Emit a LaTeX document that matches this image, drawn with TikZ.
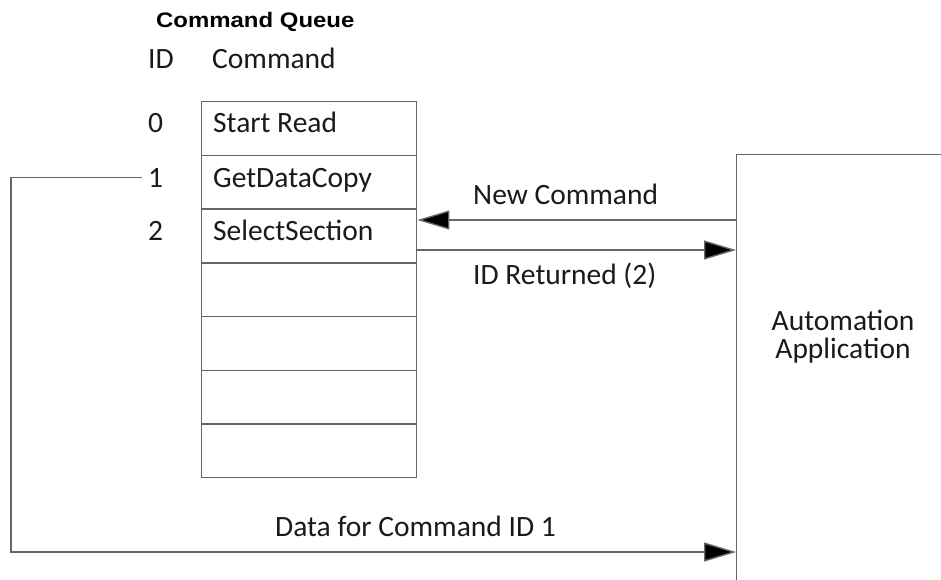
\documentclass[tikz,border=0pt]{standalone}
\usepackage{fontspec}
\setmainfont{Carlito}
\newfontfamily\headfont{Liberation Sans}
\usetikzlibrary{arrows.meta}
\definecolor{linegray}{HTML}{666666}
\definecolor{inkgray}{HTML}{1A1A1A}
\tikzset{
  body/.style={font=\fontsize{29.5}{29.5}\selectfont, text=inkgray, inner sep=0pt},
  heading/.style={font=\headfont\bfseries\fontsize{21}{21}\selectfont, text=black, inner sep=0pt},
  cell/.style={draw=linegray, line width=1.4pt, minimum width=215pt, minimum height=53.7pt,
               anchor=north west, inner sep=0pt},
  frame/.style={draw=linegray, line width=1.4pt},
  arr/.style={draw=linegray, line width=1.4pt,
              -{Triangle[length=32pt, width=19pt, fill=black]}},
}
\begin{document}
\begin{tikzpicture}[x=1pt, y=-1pt]
  \useasboundingbox (0,0) rectangle (941,579);
  \clip (0,0) rectangle (941,579);

  % queue caption and column headings
  \node[heading, anchor=base west] (title) at (156,27) {\scalebox{1.14}[1]{Command Queue}};
  \node[body, anchor=base west] (hid) at (148,68) {ID};
  \node[body, anchor=base west] (hcmd) at (212,68) {Command};

  % queue slots
  \node[cell] (q0) at (201,101) {};
  \node[cell] (q1) at (201,154.7) {};
  \node[cell] (q2) at (201,208.4) {};
  \node[cell] (q3) at (201,262.1) {};
  \node[cell] (q4) at (201,315.8) {};
  \node[cell] (q5) at (201,369.5) {};
  \node[cell] (q6) at (201,423.2) {};

  % slot contents
  \node[body, anchor=base west] (c0) at (213,132) {Start Read};
  \node[body, anchor=base west] (c1) at (213,187) {GetDataCopy};
  \node[body, anchor=base west] (c2) at (213,240) {SelectSection};

  % slot IDs
  \node[body, anchor=base west] (id0) at (148,132) {0};
  \node[body, anchor=base west] (id1) at (148,187) {1};
  \node[body, anchor=base west] (id2) at (148,240) {2};

  % client application (runs off the right and bottom edges)
  \node[frame, anchor=north west, minimum width=400pt, minimum height=600pt] (app) at (736,154) {};
  \node[body, align=center] (applabel) at (843,337) {Automation\\[-1.5pt]Application};

  % request / reply between application and queue
  \draw[arr] (app.west |- 0,220) -- (q2.east |- 0,220);
  \node[body, anchor=base west] (lnew) at (473,204) {New Command};
  \draw[arr] (q2.east |- 0,250) -- (app.west |- 0,250);
  \node[body, anchor=base west] (lret) at (473,284) {ID Returned (2)};

  % data returned for command 1
  \coordinate (loop) at (11,552);
  \draw[arr] ([xshift=-6pt]id1.west) -- (id1.west -| loop) |- (app.west |- loop);
  \node[body, anchor=base west] (ldata) at (275,536) {Data for Command ID 1};
\end{tikzpicture}
\end{document}
